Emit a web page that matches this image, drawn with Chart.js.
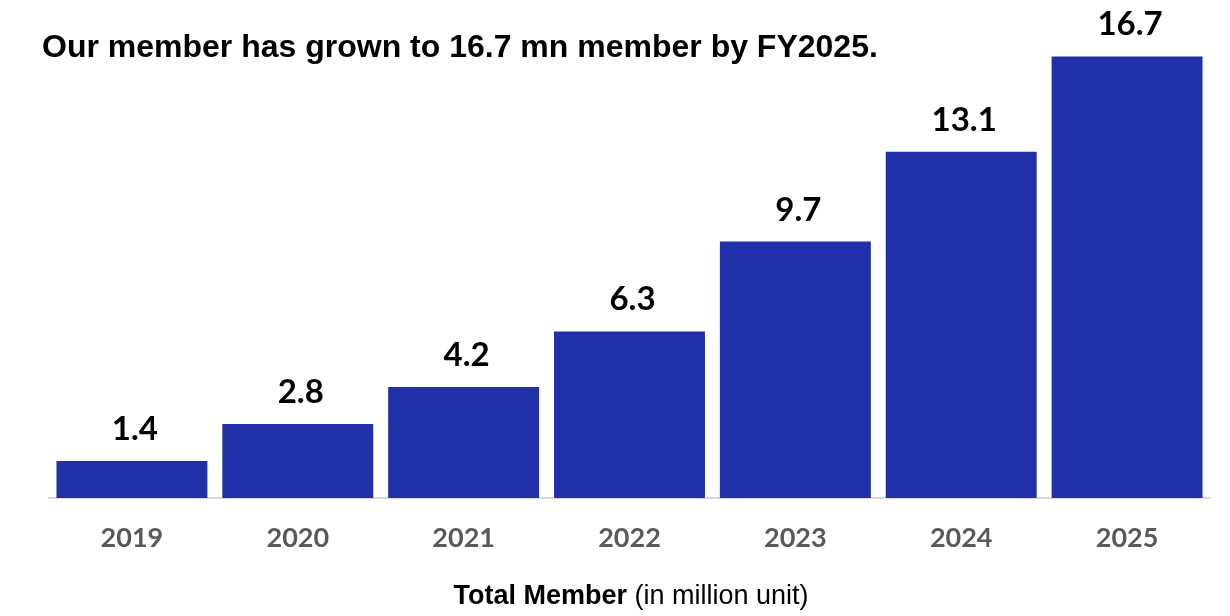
<!DOCTYPE html>
<html>
<head>
<meta charset="utf-8">
<title>Total Member</title>
<script src="https://cdn.jsdelivr.net/npm/chart.js@4.4.1/dist/chart.umd.min.js"></script>
<style>
  html, body { margin: 0; padding: 0; background: #fff; }
  #wrap { position: relative; width: 1230px; height: 616px; overflow: hidden; }
  #memberChart { position: absolute; left: 0; top: 0; }
  .headline {
    position: absolute; left: 42px; top: 30px;
    font: bold 32px "Liberation Sans", Arial, sans-serif; line-height: 32px;
    color: #000; white-space: nowrap;
  }
  .caption {
    position: absolute; left: 0; width: 1262px; top: 582px; text-align: center;
    font: 27px "Liberation Sans", Arial, sans-serif; line-height: 27px;
    color: #000; white-space: nowrap;
  }
  .caption b { font-weight: bold; }
</style>
</head>
<body>
<div id="wrap">
  <canvas id="memberChart" width="1230" height="616"></canvas>
  <div class="headline">Our member has grown to 16.7 mn member by FY2025.</div>
  <div class="caption"><b>Total Member</b> (in million unit)</div>
</div>
<script>
const years = ["2019", "2020", "2021", "2022", "2023", "2024", "2025"];
const members = [1.4, 2.8, 4.2, 6.3, 9.7, 13.1, 16.7];

const BAR_BLUE = "#2030A8";

// value text above each bar, placed from the bar element itself
const barValues = {
  id: "barValues",
  afterDatasetsDraw(chart) {
    const ctx = chart.ctx;
    const meta = chart.getDatasetMeta(0);
    ctx.save();
    ctx.font = "bold 33px Lato, sans-serif";
    ctx.fillStyle = "#000";
    ctx.textAlign = "center";
    ctx.textBaseline = "alphabetic";
    meta.data.forEach((bar, i) => {
      ctx.fillText(members[i].toFixed(1), bar.x + 3, bar.y - 21);
    });
    ctx.restore();
  },
};

function drawChart() {
  const ctx = document.getElementById("memberChart").getContext("2d");
  new Chart(ctx, {
    type: "bar",
    data: {
      labels: years,
      datasets: [{
        label: "Total Member",
        data: members,
        backgroundColor: BAR_BLUE,
        borderWidth: 0,
        categoryPercentage: 1,
        barPercentage: 0.91,
      }],
    },
    options: {
      responsive: false,
      animation: false,
      layout: { padding: { left: 49, right: 20, top: 30, bottom: 0 } },
      plugins: {
        legend: { display: false },
        tooltip: { enabled: false },
      },
      scales: {
        x: {
          grid: { display: false, drawTicks: false },
          border: { display: true, color: "#d9d9d9", width: 2 },
          ticks: {
            color: "#595959",
            font: { family: "Lato", weight: "bold", size: 27 },
            padding: 24,
          },
          afterFit: (scale) => { scale.height = 118; },
        },
        y: {
          display: false,
          min: 0,
          max: 17.7,
        },
      },
    },
    plugins: [barValues],
  });
}

Promise.all([
  document.fonts.load("bold 33px Lato"),
  document.fonts.load("bold 27px Lato"),
]).then(drawChart, drawChart);
</script>
</body>
</html>
